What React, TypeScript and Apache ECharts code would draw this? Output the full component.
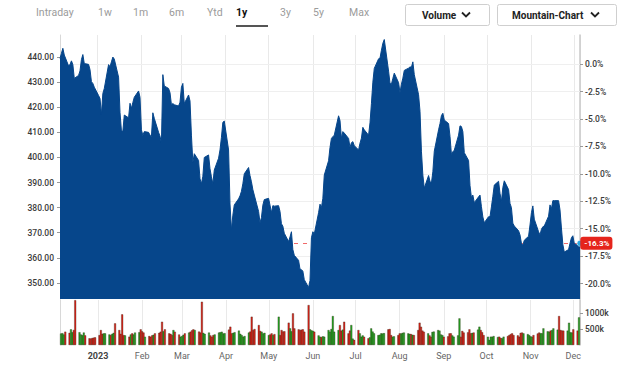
import React, { useEffect, useRef } from "react";
import * as echarts from "echarts";

// ---- data ----
const priceValues = [
  439.5, 441.5, 443.5, 440.8, 436.5, 437, 438.5, 437, 431.5, 432.7,
  434.5, 439, 441, 437.4, 437.1, 435, 430.2, 429.5, 428, 424.7,
  423.5, 417.2, 425.5, 427.5, 437, 436.1, 438.1, 440, 439.2, 432,
  418, 410.6, 410.4, 416.9, 415.8, 421.6, 419.6, 421.9, 424, 426.5,
  424, 411, 408.8, 410.3, 410, 408.9, 408.3, 417.8, 415.6, 410,
  408.5, 405.8, 433, 428.5, 427.5, 425.8, 421, 421.5, 421, 420.5,
  422, 428, 429.5, 421.5, 424.9, 422.5, 408.9, 398, 401.5, 398.8,
  391.5, 389.5, 392.5, 400, 401, 395.5, 392.3, 389.5, 395, 399.7,
  403, 408, 414, 414.5, 403, 381.5, 371.1, 377, 381.1, 383.5,
  384.7, 386.5, 389.5, 393.5, 396, 392.8, 390.3, 387.2, 385, 378.5,
  374, 376, 381, 383.2, 383.7, 381, 378, 380.8, 380.6, 380.8,
  378.5, 373.6, 372.6, 369.8, 366.5, 368.3, 370.4, 363.3, 361, 359,
  355.5, 355.3, 354.7, 351.3, 348.2, 351, 368, 370.4, 369.5, 378,
  381.4, 380, 383.7, 393, 398.7, 404, 407.6, 408.3, 408.9, 416.6,
  414.7, 407.6, 410.3, 409.7, 407.6, 404, 405.9, 406.3, 404.7, 403,
  405.7, 407.7, 412, 411, 408.9, 413.8, 421.5, 430, 435.5, 439.3,
  439.6, 442.7, 445.5, 447, 434.4, 429.5, 429.2, 431.5, 433.6, 429.8,
  425.8, 429.2, 431.6, 434.7, 435.6, 436.1, 435.9, 438.1, 433, 425,
  418.4, 402.5, 393, 387.8, 392.8, 390.5, 389.8, 394.3, 402.5, 411,
  413.5, 416.7, 417.6, 414.9, 413.5, 408.4, 401.2, 402.3, 402.9, 408.9,
  412.6, 412.3, 410.3, 401.9, 398.8, 388.8, 384, 385, 382, 384.3,
  385, 380.4, 376.3, 374, 376.4, 376.4, 380.3, 384.5, 389, 390.5,
  385.7, 382.5, 388, 390.7, 387.2, 381.7, 380, 373.8, 372.7, 370.8,
  369.1, 365.8, 365, 367, 368.6, 373.1, 378, 380.7, 375.4, 370.4,
  369.1, 371.4, 372.4, 372.7, 376.6, 381.1, 379.6, 382.8, 382.8, 382.8,
  379.1, 371.9, 365.3, 362.3, 363.3, 365.8, 368, 368.8, 365.7, 364.8,
  365.8,
];

// volumes in thousands
const volumeK = [
  360, 370, 330, 416, 380, 490, 400, 470, 1400, 400,
  330, 310, 390, 300, 210, 200, 220, 230, 240, 310,
  468, 350, 364, 364, 330, 310, 350, 380, 676, 468,
  350, 957, 310, 300, 260, 330, 364, 330, 390, 400,
  490, 430, 390, 260, 280, 260, 300, 320, 364, 380,
  416, 728, 430, 490, 364, 350, 310, 468, 416, 330,
  260, 280, 320, 364, 390, 416, 460, 490, 468, 420,
  390, 1352, 380, 350, 390, 300, 260, 310, 330, 390,
  400, 416, 360, 370, 480, 572, 364, 380, 400, 450,
  350, 310, 260, 280, 390, 420, 884, 470, 500, 624,
  440, 416, 360, 380, 310, 330, 364, 310, 340, 884,
  310, 468, 420, 430, 697, 520, 430, 988, 520, 490,
  468, 480, 490, 416, 1248, 490, 460, 440, 416, 300,
  260, 250, 270, 260, 468, 416, 500, 905, 416, 468,
  624, 450, 480, 728, 364, 450, 624, 200, 160, 468,
  364, 260, 300, 260, 210, 240, 520, 420, 364, 310,
  320, 364, 360, 370, 490, 500, 310, 260, 270, 310,
  364, 360, 380, 390, 364, 350, 340, 320, 310, 468,
  697, 572, 450, 416, 364, 300, 260, 410, 420, 468,
  450, 330, 310, 260, 270, 364, 364, 300, 260, 300,
  832, 260, 440, 390, 400, 490, 364, 380, 390, 480,
  572, 468, 400, 310, 260, 160, 260, 260, 280, 250,
  260, 220, 210, 260, 280, 310, 340, 364, 310, 300,
  260, 380, 390, 364, 340, 310, 270, 260, 310, 360,
  390, 370, 364, 520, 430, 416, 450, 468, 520, 480,
  905, 470, 450, 450, 450, 697, 400, 390, 490, 450,
  863,
];

const refPrice = 437.2; // price at 0.0 %
const priceMin = 343.6;
const priceMax = 448.8;
const volMaxK = 1406.25;
const priceTicks = [350, 360, 370, 380, 390, 400, 410, 420, 430, 440];
const pctTicks = [0, -2.5, -5, -7.5, -10, -12.5, -15, -17.5, -20];
const volTicks = [500, 1000];
const monthNames = ["Jan", "Feb", "Mar", "Apr", "May", "Jun", "Jul", "Aug", "Sep", "Oct", "Nov", "Dec"];
const tabs = ["Intraday", "1w", "1m", "6m", "Ytd", "1y", "3y", "5y", "Max"];
const activeTab = "1y";
const buttons = ["Volume", "Mountain-Chart"];

function tradingDays(): number[] {
  const out: number[] = [];
  const d = new Date(2022, 11, 6);
  const end = new Date(2023, 11, 5);
  while (d.getTime() <= end.getTime()) {
    const wd = d.getDay();
    if (wd !== 0 && wd !== 6) out.push(d.getTime());
    d.setDate(d.getDate() + 1);
  }
  return out;
}

const FONT = "Roboto, 'Noto Sans', sans-serif";
const BLUE = "#06468b";

export default function App() {
  const ref = useRef<HTMLDivElement>(null);
  useEffect(() => {
    if (!ref.current) return;
    const chart = echarts.init(ref.current, undefined, { renderer: "svg" });
    const days = tradingDays();
    const n = Math.min(days.length, priceValues.length);
    const priceData = [];
    const volData = [];
    for (let i = 0; i < n; i++) {
      priceData.push([days[i], priceValues[i]]);
      const up = i === 0 ? true : priceValues[i] >= priceValues[i - 1];
      volData.push({
        value: [days[i], volumeK[i]],
        itemStyle: { color: up ? "#22a722" : "#dc2219" },
      });
    }
    const lastT = days[n - 1];
    const lastP = priceValues[n - 1];
    const lastPct = (lastP / refPrice - 1) * 100;
    const pctMin = (priceMin / refPrice - 1) * 100;
    const pctMax = (priceMax / refPrice - 1) * 100;
    const tMin = days[0];
    const tMax = lastT;
    const DAY = 86400000;

    const tabX: Record<string, number> = { Intraday: 36, "1w": 98, "1m": 133, "6m": 169, Ytd: 207, "1y": 236, "3y": 280, "5y": 313, Max: 349 };
    const graphics: any[] = [];
    tabs.forEach((t) => {
      graphics.push({
        type: "text",
        x: tabX[t],
        y: 12,
        style: {
          text: t,
          fill: t === activeTab ? "#111" : "#9b9b9b",
          fontSize: 10.5,
          fontFamily: FONT,
          fontWeight: t === activeTab ? "bold" : "normal",
          verticalAlign: "middle",
        },
      });
    });
    graphics.push({ type: "rect", shape: { x: 236, y: 25, width: 32, height: 2 }, style: { fill: "#555" } });
    const btn = [
      { x: 405.5, w: 84, tx: 422, cx: 462 },
      { x: 497.5, w: 119, tx: 512, cx: 591 },
    ];
    buttons.forEach((b, i) => {
      const g = btn[i];
      graphics.push({ type: "rect", shape: { x: g.x, y: 4.5, width: g.w, height: 21, r: 2 }, style: { fill: "#fff", stroke: "#cfcfcf", lineWidth: 1 } });
      graphics.push({ type: "text", x: g.tx, y: 15, style: { text: b, fill: "#222", fontSize: 10, fontWeight: "bold", fontFamily: FONT, verticalAlign: "middle" } });
      graphics.push({ type: "polyline", shape: { points: [[g.cx, 12.5], [g.cx + 4, 16.5], [g.cx + 8, 12.5]] }, style: { stroke: "#222", lineWidth: 1.8, fill: null } });
    });

    const axisLabelBase = { fontFamily: FONT, fontSize: 8.5, color: "#3a3a3a", fontWeight: 500 };

    chart.setOption({
      animation: false,
      backgroundColor: "#fff",
      textStyle: { fontFamily: FONT },
      graphic: graphics,
      grid: [
        { left: 60, right: 60, top: 35, height: 264, containLabel: false },
        { left: 60, right: 60, top: 300, height: 45, containLabel: false },
      ],
      xAxis: [
        {
          type: "time", gridIndex: 0, min: tMin, max: tMax,
          minInterval: 28 * DAY, maxInterval: 31 * DAY, splitNumber: 12,
          axisLabel: { show: false }, axisTick: { show: false }, axisLine: { show: false },
          splitLine: { show: true, lineStyle: { color: "#e9e9e9", width: 1 } },
        },
        {
          type: "time", gridIndex: 1, min: tMin, max: tMax,
          minInterval: 28 * DAY, maxInterval: 31 * DAY, splitNumber: 12,
          axisTick: { show: false }, axisLine: { show: false },
          splitLine: { show: true, lineStyle: { color: "#e9e9e9", width: 1 } },
          axisLabel: {
            fontFamily: FONT, fontSize: 9, color: "#666", margin: 6,
            hideOverlap: false,
            formatter: (v: number) => {
              const d = new Date(v);
              if (d.getMonth() === 0) return "{y|" + d.getFullYear() + "}";
              return monthNames[d.getMonth()];
            },
            rich: { y: { fontFamily: FONT, fontSize: 9, fontWeight: "bold", color: "#444" } },
          },
        },
      ],
      yAxis: [
        {
          type: "value", gridIndex: 0, position: "left", min: priceMin, max: priceMax,
          axisLine: { show: true, lineStyle: { color: "#d8d8d8" } },
          axisTick: { show: true, length: 3, customValues: priceTicks, lineStyle: { color: "#999" } },
          axisLabel: { ...axisLabelBase, margin: 6, customValues: priceTicks, formatter: (v: number) => v.toFixed(2) },
          splitLine: { show: false },
        },
        {
          type: "value", gridIndex: 0, position: "right", min: pctMin, max: pctMax,
          axisLine: { show: true, lineStyle: { color: "#c9c9c9", width: 1.5 } },
          axisTick: { show: true, length: 3, customValues: pctTicks, lineStyle: { color: "#999" } },
          axisLabel: { ...axisLabelBase, margin: 5, customValues: pctTicks, formatter: (v: number) => v.toFixed(1) + "%" },
          splitLine: { show: false },
        },
        {
          type: "value", gridIndex: 1, position: "right", min: 0, max: volMaxK,
          axisLine: { show: true, lineStyle: { color: "#c9c9c9", width: 1.5 } },
          axisTick: { show: true, length: 3, customValues: volTicks, lineStyle: { color: "#999" } },
          axisLabel: { ...axisLabelBase, margin: 5, customValues: volTicks, formatter: (v: number) => v + "k" },
          splitLine: { show: false },
        },
        {
          type: "value", gridIndex: 1, position: "left", min: 0, max: volMaxK,
          axisLine: { show: true, lineStyle: { color: "#d8d8d8" } },
          axisTick: { show: false }, axisLabel: { show: false }, splitLine: { show: false },
        },
      ],
      series: [
        {
          type: "line", xAxisIndex: 0, yAxisIndex: 1, z: 1,
          data: [[lastT, lastPct]], symbol: "none", lineStyle: { opacity: 0 }, silent: true,
          markLine: {
            silent: true, z: 1, symbol: ["none", "none"], label: { show: false },
            data: [
              ...pctTicks.map((p) => ({ yAxis: p, lineStyle: { color: "#efefef", type: "solid", width: 1 } })),
              { yAxis: lastPct, lineStyle: { color: "#f06a6a", type: [4, 5], width: 1, opacity: 1 } },
            ],
          },
        },
        {
          type: "line", xAxisIndex: 0, yAxisIndex: 0, z: 3,
          data: priceData, showSymbol: false, symbol: "none",
          lineStyle: { color: BLUE, width: 1 },
          areaStyle: { color: BLUE, opacity: 1, origin: "start" },
          markPoint: {
            silent: true, z: 6, symbol: "circle", symbolSize: 6,
            itemStyle: { color: "#2aa5df", borderColor: "#fff", borderWidth: 0.5 },
            label: {
              show: true, position: "right", distance: -3,
              formatter: lastPct.toFixed(1) + "%",
              color: "#fff", backgroundColor: "#e5251c", borderRadius: 3,
              padding: [3, 3, 2, 4], fontSize: 8, fontWeight: "bold", fontFamily: FONT,
            },
            data: [{ coord: [lastT, lastP] }],
          },
        },
        {
          type: "bar", xAxisIndex: 1, yAxisIndex: 2, z: 2,
          data: volData, barWidth: 2,
          itemStyle: { borderColor: "rgba(45,30,15,0.8)", borderWidth: 0.4 },
        },
      ],
    });
    return () => chart.dispose();
  }, []);
  return <div ref={ref} style={{ position: "absolute", left: 0, top: 0, width: 640, height: 365 }} />;
}
